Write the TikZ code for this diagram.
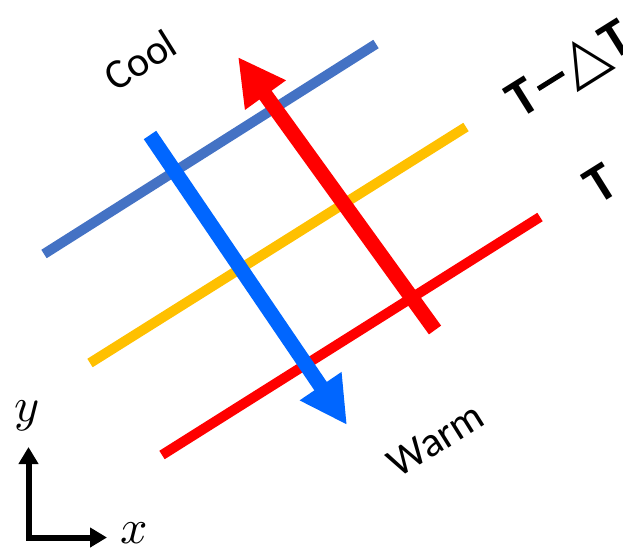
\documentclass[tikz,border=0pt]{standalone}
\usepackage{fontspec}
\usepackage{unicode-math}
\setmainfont{Carlito}
\setmathfont{Latin Modern Math}
\newfontfamily\dejavu{DejaVu Sans}
\usetikzlibrary{arrows.meta}
\definecolor{steel}{HTML}{4472C4}
\definecolor{gold}{HTML}{FFC000}
\definecolor{brightred}{HTML}{FF0000}
\definecolor{arrowblue}{HTML}{0066FF}
\tikzset{
  isoline/.style={line width=10pt},
  bigarrow/.style={line width=15pt, -{Triangle[length=47pt,width=47pt]}},
  axis/.style={line width=6pt, line join=miter},
  lbl/.style={rotate=32, font=\fontsize{42}{50}\selectfont, inner sep=0pt},
  tlbl/.style={rotate=32, font=\bfseries\fontsize{54}{60}\selectfont, inner sep=0pt},
  axlbl/.style={font=\fontsize{48}{56}\selectfont, inner sep=0pt},
}
\begin{document}
\begin{tikzpicture}[x=1pt,y=-1pt]
\useasboundingbox (0,0) rectangle (623,550);
% isotherm lines
\coordinate (b1) at (44,254);  \coordinate (b2) at (376,44);
\coordinate (y1) at (90,363);  \coordinate (y2) at (466,127);
\coordinate (r1) at (162,455); \coordinate (r2) at (540,217);
\draw[isoline, steel] (b1) -- (b2);
\draw[isoline, gold] (y1) -- (y2);
\draw[isoline, brightred] (r1) -- (r2);
% arrows
\coordinate (ba1) at (150,135); \coordinate (ba2) at (347,425);
\coordinate (ra1) at (435,330); \coordinate (ra2) at (238,57);
\draw[bigarrow, arrowblue] (ba1) -- (ba2);
\draw[bigarrow, brightred] (ra1) -- (ra2);
% labels
\node[lbl] (cool) at (140,60) {Cool};
\node[lbl] (warm) at (436,440) {Warm};
\node[tlbl] (tdt) at (570,70) {T\hspace{4pt}\raisebox{14pt}{\rule{30pt}{5pt}}\hspace{1pt}{\dejavu\mdseries\fontsize{60}{66}\selectfont △}\hspace{1pt}T};
\node[tlbl] (t) at (601,184) {T};
% axes
\coordinate (ytip) at (28.5,447);
\coordinate (origin) at (28.5,537.5);
\coordinate (xtip) at (107,537.5);
\draw[axis, {Triangle[length=17pt,width=19pt]}-{Triangle[length=17pt,width=19pt]}] (ytip) -- (origin) -- (xtip);
\node[axlbl] (ylab) at (27,416) {$y$};
\node[axlbl] (xlab) at (134,533) {$x$};
\end{tikzpicture}
\end{document}
